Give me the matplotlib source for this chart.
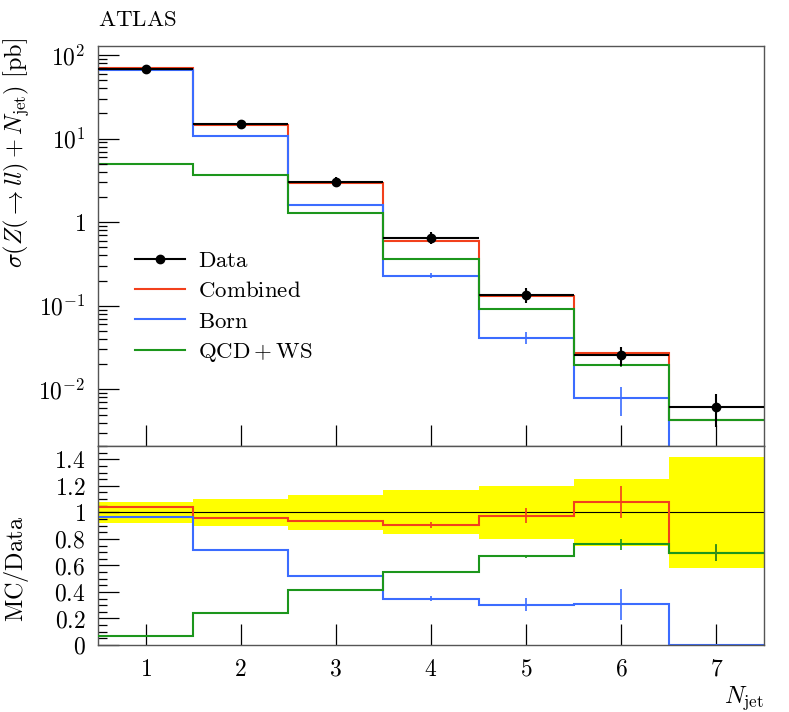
import numpy as np
import matplotlib
matplotlib.use("Agg")
import matplotlib.pyplot as plt
from matplotlib.ticker import FixedLocator, FuncFormatter, MultipleLocator
from matplotlib.lines import Line2D

plt.rcParams['mathtext.fontset'] = 'cm'
plt.rcParams['font.family'] = ['DejaVu Serif']

# ---------------- data ----------------
njet = [1, 2, 3, 4, 5, 6, 7]
edges = [0.5, 1.5, 2.5, 3.5, 4.5, 5.5, 6.5, 7.5]

data_xs = [68.5, 15.1, 3.06, 0.655, 0.135, 0.0254, 0.00615]
data_rel_err = [0.077, 0.10, 0.13, 0.165, 0.20, 0.25, 0.42]

combined_xs = [70.5, 14.6, 2.92, 0.593, 0.131, 0.0269, 0.0043]
born_xs = [66.7, 10.8, 1.61, 0.230, 0.0415, 0.0078, 0.0]
qcdws_xs = [5.0, 3.68, 1.28, 0.361, 0.0903, 0.0194, 0.0043]

combined_rel_err = [0.003, 0.004, 0.01, 0.022, 0.056, 0.11, 0.09]
born_rel_err = [0.002, 0.003, 0.01, 0.06, 0.16, 0.38, 0.0]
qcdws_rel_err = [0.002, 0.004, 0.01, 0.005, 0.015, 0.05, 0.09]

combined_ratio = [1.04, 0.96, 0.935, 0.905, 0.975, 1.075, 0.696]
born_ratio = [0.967, 0.718, 0.52, 0.349, 0.305, 0.307, 0.0]
qcdws_ratio = [0.07, 0.241, 0.412, 0.553, 0.669, 0.759, 0.696]

combined_ratio_err = [0.003, 0.004, 0.01, 0.02, 0.055, 0.12, 0.06]
born_ratio_err = [0.002, 0.003, 0.005, 0.02, 0.05, 0.117, 0.0]
qcdws_ratio_err = [0.002, 0.003, 0.004, 0.004, 0.01, 0.04, 0.065]

y_ticks_top = [1e-2, 1e-1, 1, 10, 100]
y_ticks_bot = [0, 0.2, 0.4, 0.6, 0.8, 1.0, 1.2, 1.4]

RED = '#f2401c'
BLUE = '#3b6cff'
GREEN = '#1c961c'
YELLOW = '#ffff00'
FS_TICK = 17
FS_TEXT = 16.5
FS_LABEL = 17.5

# ---------------- figure ----------------
fig = plt.figure(figsize=(7.89, 7.12), dpi=100)
ax = fig.add_axes([98/789, 1-446/712, 666/789, 400/712])
axr = fig.add_axes([98/789, 1-645/712, 666/789, 199/712])

njet_a = np.array(njet, float)
data_a = np.array(data_xs)
data_err = data_a * np.array(data_rel_err)

def mc_err(vals, rel):
    return np.array(vals) * np.array(rel)

# top panel
ax.set_yscale('log')
ax.stairs(combined_xs, edges, color=RED, lw=1.5, baseline=None)
ax.stairs(born_xs, edges, color=BLUE, lw=1.5, baseline=None)
ax.stairs(qcdws_xs, edges, color=GREEN, lw=1.5, baseline=None)
ax.errorbar(njet_a, combined_xs, yerr=mc_err(combined_xs, combined_rel_err), fmt='none', ecolor=RED, elinewidth=1.2)
bmask = np.array(born_xs) > 0
ax.errorbar(njet_a[bmask], np.array(born_xs)[bmask], yerr=mc_err(born_xs, born_rel_err)[bmask], fmt='none', ecolor=BLUE, elinewidth=1.2)
ax.errorbar(njet_a, qcdws_xs, yerr=mc_err(qcdws_xs, qcdws_rel_err), fmt='none', ecolor=GREEN, elinewidth=1.2)
ax.errorbar(njet_a, data_a, xerr=0.5, yerr=data_err, fmt='o', color='black', ms=6, elinewidth=1.5, capsize=0, zorder=5)

handles = [Line2D([], [], color='black', lw=1.5, marker='o', ms=6),
           Line2D([], [], color=RED, lw=1.5),
           Line2D([], [], color=BLUE, lw=1.5),
           Line2D([], [], color=GREEN, lw=1.5)]
labels = [r'$\mathrm{Data}$', r'$\mathrm{Combined}$', r'$\mathrm{Born}$', r'$\mathrm{QCD}+\mathrm{WS}$']
ax.legend(handles, labels, loc='upper left', bbox_to_anchor=(0.0556, 0.49), frameon=False,
          fontsize=FS_TEXT, handlelength=2.2, handletextpad=0.55, labelspacing=0.36,
          borderaxespad=0, borderpad=0)

ax.set_xlim(0.5, 7.5)
ax.set_ylim(2.1e-3, 128)
ax.yaxis.set_major_locator(FixedLocator(y_ticks_top))
def logfmt(v, pos):
    e = int(round(np.log10(v)))
    return r'$1$' if e == 0 else r'$10^{%d}$' % e
ax.yaxis.set_major_formatter(FuncFormatter(logfmt))
minor = [m * 10.0**e for e in range(-3, 3) for m in range(2, 10)]
ax.yaxis.set_minor_locator(FixedLocator(minor))
ax.xaxis.set_major_locator(FixedLocator(njet))
ax.set_xticklabels([])

# ratio panel
derr = np.array(data_rel_err)
axr.bar(njet_a, 2*derr, bottom=1-derr, width=1.0, color=YELLOW, lw=0, zorder=0)
axr.axhline(1.0, color='black', lw=0.8, zorder=1)
axr.stairs(combined_ratio, edges, color=RED, lw=1.5, baseline=None, zorder=2)
axr.stairs(born_ratio, edges, color=BLUE, lw=1.5, baseline=None, zorder=2)
axr.stairs(qcdws_ratio, edges, color=GREEN, lw=1.5, baseline=None, zorder=3)
axr.errorbar(njet_a, combined_ratio, yerr=combined_ratio_err, fmt='none', ecolor=RED, elinewidth=1.2, zorder=3)
axr.errorbar(njet_a[bmask], np.array(born_ratio)[bmask], yerr=np.array(born_ratio_err)[bmask], fmt='none', ecolor=BLUE, elinewidth=1.2, zorder=3)
axr.errorbar(njet_a, qcdws_ratio, yerr=qcdws_ratio_err, fmt='none', ecolor=GREEN, elinewidth=1.2, zorder=4)

axr.set_xlim(0.5, 7.5)
axr.set_ylim(0, 1.5)
axr.yaxis.set_major_locator(FixedLocator(y_ticks_bot))
axr.yaxis.set_minor_locator(MultipleLocator(0.05))
def linfmt(v, pos):
    s = '%.1f' % v
    if abs(v - round(v)) < 1e-9:
        s = '%d' % round(v)
    return r'$%s$' % s
axr.yaxis.set_major_formatter(FuncFormatter(linfmt))
axr.xaxis.set_major_locator(FixedLocator(njet))
axr.xaxis.set_major_formatter(FuncFormatter(lambda v, p: r'$%d$' % v))

for a in (ax, axr):
    a.tick_params(which='major', direction='in', length=15, width=0.9, labelsize=FS_TICK, pad=9,
                  left=True, bottom=True, right=False, top=False)
    a.tick_params(which='minor', direction='in', length=6.5, width=0.9, left=True, bottom=False, right=False, top=False)
    for s in a.spines.values():
        s.set_color('#555555')
        s.set_linewidth(1.0)

ax.set_ylabel(r'$\sigma(Z(\rightarrow ll)+N_{\mathrm{jet}})\ [\mathrm{pb}]$', fontsize=FS_LABEL, ha='right')
ax.yaxis.set_label_coords(-0.1, 1.02)
axr.set_ylabel(r'$\mathrm{MC/Data}$', fontsize=FS_LABEL)
axr.yaxis.set_label_coords(-0.1, 0.38)
axr.set_xlabel(r'$N_{\mathrm{jet}}$', fontsize=FS_LABEL, ha='right')
axr.xaxis.set_label_coords(1.0, -0.2)

fig.text(98/789, 1-20/712, r'$\mathrm{ATLAS}$', fontsize=FS_TEXT, ha='left', va='center')

fig.savefig('out.png', dpi=100)
